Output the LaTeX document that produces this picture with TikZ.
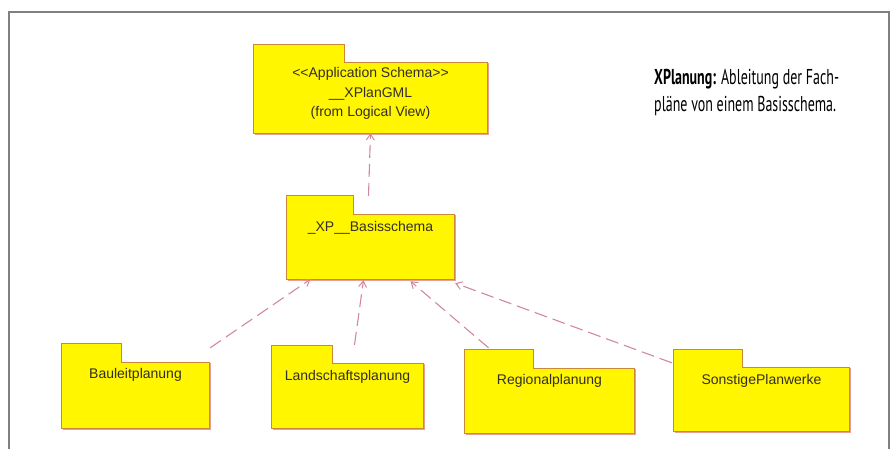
\documentclass[tikz,border=0pt]{standalone}
\usepackage{fontspec}
\setmainfont{Liberation Sans}
\newfontfamily\capfont[FakeStretch=0.65]{PT Sans}
\usetikzlibrary{arrows.meta}
\definecolor{pkgfill}{RGB}{255,246,0}
\definecolor{pkgline}{RGB}{205,135,60}
\definecolor{pkgshadow}{RGB}{230,160,150}
\definecolor{deppink}{RGB}{210,135,160}
\definecolor{framegray}{RGB}{128,128,128}
\newcommand\pkgfolder[3]{%
  \fill[pkgshadow] ([xshift=1.5pt,yshift=-1.5pt]#1.south west) rectangle ([xshift=1.5pt]#1.north east);
  \filldraw[pkg] (#1.south west) -- (#1.north west) -- ++(0,-#3) -- ++(#2,0) -- ++(0,#3)
    -- (#1.north east) -- (#1.south east) -- cycle;}
\begin{document}
\begin{tikzpicture}[x=1pt,y=-1pt,
    body/.style={inner sep=0,minimum width=#1},
    pkg/.style={fill=pkgfill,draw=pkgline,line width=1.1pt},
    pkgtext/.style={inner sep=0,font=\fontsize{14}{19.5}\selectfont,text=black!85!olive},
    dep/.style={draw=deppink,line width=1.1pt,dash pattern=on 13pt off 6pt,
      -{Straight Barb[length=6pt,width=8pt,line width=1pt]}}]
\useasboundingbox (0,0) rectangle (892,448);
\draw[framegray,line width=2pt] (8.5,449) -- (8.5,12) -- (889,12) -- (889,449);
\node[body=233pt,minimum height=70pt] (xgml) at (370.5,98) {};
\node[body=167pt,minimum height=64pt] (basis) at (370.5,247) {};
\node[body=147pt,minimum height=65pt] (bau) at (135.5,395.5) {};
\node[body=151pt,minimum height=64pt] (land) at (347.5,396) {};
\node[body=169pt,minimum height=64pt] (reg) at (549.5,401) {};
\node[body=175pt,minimum height=63pt] (sonst) at (761.5,399.5) {};
\pkgfolder{xgml}{91}{18}
\pkgfolder{basis}{67}{19}
\pkgfolder{bau}{60}{19}
\pkgfolder{land}{61}{18}
\pkgfolder{reg}{69}{19}
\pkgfolder{sonst}{69}{18}
\node[pkgtext,align=center,anchor=north] (xgmltext) at ([yshift=-4.5pt]xgml.north)
  {<{}<Application Schema>{}>\\\_\_XPlanGML\\(from Logical View)};
\node[pkgtext,anchor=base] (basistext) at ([yshift=-16.5pt]basis.north) {\_XP\_\_Basisschema};
\node[pkgtext,anchor=base] (bautext) at ([yshift=-16pt]bau.north) {Bauleitplanung};
\node[pkgtext,anchor=base] (landtext) at ([yshift=-16.5pt]land.north) {Landschaftsplanung};
\node[pkgtext,anchor=base] (regtext) at ([yshift=-16pt]reg.north) {Regionalplanung};
\node[pkgtext,anchor=base] (sonsttext) at ([yshift=-16.5pt]sonst.north) {SonstigePlanwerke};
\draw[dep] ([xshift=-2pt,yshift=19pt]basis.north) -- (xgml.south);
\draw[dep] ([xshift=1pt,yshift=15pt]bau.north east) -- ([xshift=-60pt]basis.south);
\draw[dep] ([xshift=7pt,yshift=19pt]land.north) -- ([xshift=-7pt,yshift=-1pt]basis.south);
\draw[dep] ([xshift=-61pt,yshift=21pt]reg.north) -- ([xshift=40pt,yshift=-2pt]basis.south);
\draw[dep] ([xshift=-2pt,yshift=5pt]sonst.north west) -- ([xshift=1pt,yshift=-4pt]basis.south east);
\node[anchor=north west,align=left,inner sep=0,font=\capfont\fontsize{21.5}{27}\selectfont]
  (caption) at (654,69) {\textbf{XPlanung:} Ableitung der Fach-\\pläne von einem Basisschema.};
\end{tikzpicture}
\end{document}
